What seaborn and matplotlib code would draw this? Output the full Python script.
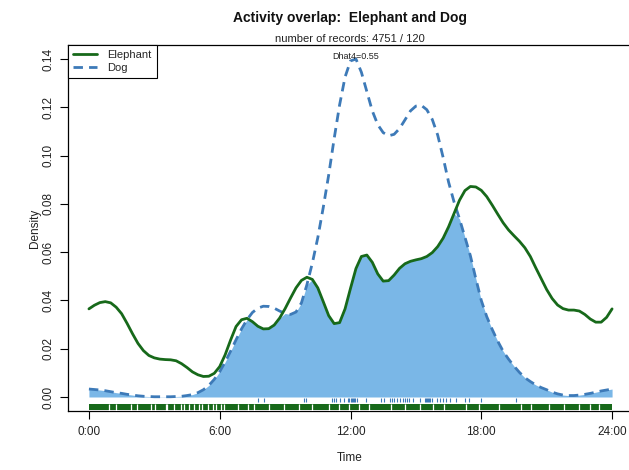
import numpy as np
import pandas as pd
import matplotlib
matplotlib.use("Agg")
import matplotlib.pyplot as plt
import seaborn as sns

# Kernel density estimates of activity time, read every quarter hour
hours = [0.00, 0.25, 0.50, 0.75, 1.00, 1.25, 1.50, 1.75, 2.00, 2.25, 2.50, 2.75,
         3.00, 3.25, 3.50, 3.75, 4.00, 4.25, 4.50, 4.75, 5.00, 5.25, 5.50, 5.75,
         6.00, 6.25, 6.50, 6.75, 7.00, 7.25, 7.50, 7.75, 8.00, 8.25, 8.50, 8.75,
         9.00, 9.25, 9.50, 9.75, 10.00, 10.25, 10.50, 10.75, 11.00, 11.25, 11.50, 11.75,
         12.00, 12.25, 12.50, 12.75, 13.00, 13.25, 13.50, 13.75, 14.00, 14.25, 14.50, 14.75,
         15.00, 15.25, 15.50, 15.75, 16.00, 16.25, 16.50, 16.75, 17.00, 17.25, 17.50, 17.75,
         18.00, 18.25, 18.50, 18.75, 19.00, 19.25, 19.50, 19.75, 20.00, 20.25, 20.50, 20.75,
         21.00, 21.25, 21.50, 21.75, 22.00, 22.25, 22.50, 22.75, 23.00, 23.25, 23.50, 23.75,
         24.00]

elephant_density = [
    0.0365, 0.0380, 0.0391, 0.0395, 0.0390, 0.0372, 0.0345, 0.0305,
    0.0262, 0.0222, 0.0192, 0.0172, 0.0162, 0.0157, 0.0155, 0.0154,
    0.0150, 0.0138, 0.0122, 0.0104, 0.0092, 0.0085, 0.0086, 0.0098,
    0.0126, 0.0175, 0.0236, 0.0292, 0.0320, 0.0326, 0.0312, 0.0293,
    0.0282, 0.0283, 0.0298, 0.0327, 0.0366, 0.0410, 0.0452, 0.0483,
    0.0496, 0.0487, 0.0452, 0.0395, 0.0337, 0.0304, 0.0308, 0.0365,
    0.0450, 0.0532, 0.0582, 0.0588, 0.0558, 0.0510, 0.0480, 0.0482,
    0.0505, 0.0533, 0.0552, 0.0562, 0.0568, 0.0573, 0.0582, 0.0598,
    0.0623, 0.0658, 0.0705, 0.0760, 0.0815, 0.0855, 0.0872, 0.0870,
    0.0856, 0.0830, 0.0795, 0.0758, 0.0722, 0.0692, 0.0668, 0.0645,
    0.0618, 0.0582, 0.0535, 0.0490, 0.0445, 0.0408, 0.0381, 0.0366,
    0.0360, 0.0360, 0.0356, 0.0342, 0.0323, 0.0310, 0.0310, 0.0330,
    0.0365]

dog_density = [
    0.0033, 0.0031, 0.0029, 0.0026, 0.0022, 0.0018, 0.0015, 0.0011,
    0.0008, 0.0005, 0.0003, 0.0002, 0.0001, 0.0001, 0.0001, 0.0001,
    0.0002, 0.0003, 0.0006, 0.0010, 0.0018, 0.0030, 0.0048, 0.0073,
    0.0105, 0.0145, 0.0190, 0.0237, 0.0282, 0.0320, 0.0350, 0.0368,
    0.0376, 0.0375, 0.0368, 0.0356, 0.0346, 0.0342, 0.0352, 0.0390,
    0.0465, 0.0555, 0.0660, 0.0785, 0.0920, 0.1070, 0.1210, 0.1325,
    0.1392, 0.1400, 0.1345, 0.1265, 0.1185, 0.1128, 0.1095, 0.1082,
    0.1088, 0.1112, 0.1148, 0.1185, 0.1205, 0.1208, 0.1190, 0.1150,
    0.1085, 0.0992, 0.0890, 0.0808, 0.0738, 0.0662, 0.0585, 0.0490,
    0.0400, 0.0333, 0.0280, 0.0232, 0.0190, 0.0157, 0.0128, 0.0102,
    0.0080, 0.0064, 0.0050, 0.0039, 0.0030, 0.0020, 0.0013, 0.0008,
    0.0006, 0.0006, 0.0008, 0.0011, 0.0015, 0.0020, 0.0025, 0.0029,
    0.0033]

# Individual dog records (hours) shown in the rug
dog_rug = [7.75, 8.05, 9.85, 9.95, 11.15, 11.25, 11.35, 11.5, 11.7, 11.9, 11.95,
           12.0, 12.05, 12.1, 12.15, 12.2, 12.3, 12.7, 13.4, 13.55, 13.8, 13.9,
           14.0, 14.15, 14.25, 14.4, 14.5, 14.6, 14.7, 14.85, 15.2, 15.4, 15.45,
           15.5, 15.55, 15.6, 15.65, 15.75, 15.95, 16.1, 16.25, 16.4, 16.55,
           16.85, 17.25, 17.45, 18.0, 19.6]

# Elephant records are near-continuous; these are the hours with no record
elephant_rug_gaps = [0.92, 1.23, 1.93, 2.22, 2.84, 3.03, 3.52, 3.59, 3.91, 4.21,
                     4.37, 4.6, 4.83, 5.06, 5.21, 5.44, 5.67, 5.82, 6.05, 6.2,
                     6.82, 7.28, 7.59, 8.28, 8.97, 9.66, 10.25, 11.03, 11.49,
                     11.95, 12.41, 12.87, 13.87, 14.48, 15.17, 15.77, 16.3, 17.3,
                     17.9, 18.8, 19.8, 20.3, 21.1, 21.8, 22.5, 23.0, 23.4]

x_ticks = [0, 6, 12, 18, 24]
x_tick_labels = ["0:00", "6:00", "12:00", "18:00", "24:00"]
y_ticks = [0.00, 0.02, 0.04, 0.06, 0.08, 0.10, 0.12, 0.14]

species = ["Elephant", "Dog"]
n_records = [4751, 120]
dhat4 = 0.55

GREEN = "#17691a"
BLUE = "#3d7ab8"
FILL = "#7ab7e7"

sns.set_style("white")
plt.rcParams["font.family"] = ["Liberation Sans", "DejaVu Sans"]

df = pd.DataFrame({
    "time": hours * 2,
    "density": elephant_density + dog_density,
    "species": [species[0]] * len(hours) + [species[1]] * len(hours),
})

fig = plt.figure(figsize=(6.29, 4.70), dpi=100)
ax = fig.add_axes([68 / 629, 59 / 470, 565 / 629, 366 / 470])

# overlap area under both curves
overlap = np.minimum(elephant_density, dog_density)
ax.fill_between(hours, 0, overlap, color=FILL, lw=0, zorder=1)

sns.lineplot(data=df[df.species == "Elephant"], x="time", y="density",
             color=GREEN, lw=2.0, ax=ax, legend=False, zorder=3)
sns.lineplot(data=df[df.species == "Dog"], x="time", y="density",
             color=BLUE, lw=2.0, ax=ax, legend=False, zorder=2)
l_ele, l_dog = ax.lines[0], ax.lines[1]
l_dog.set_linestyle((0, (3.4, 2.2)))
for ln in (l_ele, l_dog):
    ln.set_solid_joinstyle("round")
    ln.set_dash_joinstyle("round")

# rugs
ax.vlines(dog_rug, -0.0022, -0.0004, color=BLUE, lw=0.8, zorder=2)
ax.fill_between([0, 24], -0.0055, -0.0029, color=GREEN, lw=0, zorder=2)
ax.vlines(elephant_rug_gaps, -0.0056, -0.0028, color="white", lw=0.9, zorder=3)

ax.set_xlim(-0.96, 24.96)
ax.set_ylim(-0.0058, 0.1458)
ax.set_xticks(x_ticks)
ax.set_xticklabels(x_tick_labels)
ax.set_yticks(y_ticks)
ax.set_yticklabels([f"{v:.2f}" for v in y_ticks], rotation=90, va="center")
ax.tick_params(axis="both", which="major", bottom=True, left=True,
               direction="out", length=6, width=0.8,
               labelsize=8.5, color="black", labelcolor="#222222")
ax.tick_params(axis="x", pad=5)
ax.tick_params(axis="y", pad=4)
for s in ax.spines.values():
    s.set_color("black")
    s.set_linewidth(0.9)

ax.set_xlabel("Time", fontsize=8.5, color="#222222")
ax.set_ylabel("Density", fontsize=8.5, color="#222222")
ax.xaxis.set_label_coords(282 / 565, -47 / 366)
ax.yaxis.set_label_coords(-33 / 565, 0.5)
ax.xaxis.label.set_va("center")
ax.yaxis.label.set_va("center")

fig.text(350 / 629, 1 - 18 / 470, "Activity overlap:  Elephant and Dog",
         ha="center", va="center", fontsize=10, fontweight="bold", color="#111111")
fig.text(350 / 629, 1 - 39 / 470,
         f"number of records: {n_records[0]} / {n_records[1]}",
         ha="center", va="center", fontsize=8, color="#222222")
ax.text(12.25, 0.1410, f"Dhat4={dhat4:.2f}", ha="center", va="center",
        fontsize=6.5, color="#222222", zorder=4)

leg = ax.legend([l_ele, l_dog], species, loc="upper left",
                bbox_to_anchor=(0, 1), borderaxespad=0, fancybox=False,
                framealpha=1, edgecolor="black", fontsize=8,
                handlelength=2.2, handletextpad=0.9, labelspacing=0.25,
                borderpad=0.45)
leg.get_frame().set_linewidth(0.8)

fig.savefig("out.png", dpi=100)
